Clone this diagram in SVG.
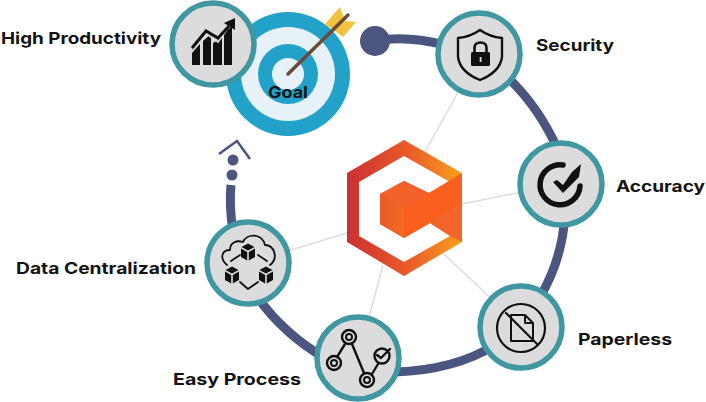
<svg xmlns="http://www.w3.org/2000/svg" width="706" height="402" viewBox="0 0 706 402">
<style>
.ring{fill:none;stroke:#4a5680;stroke-width:9}
.spoke{fill:none;stroke:#dcdcdc;stroke-width:1.5}
.disc{fill:#dcdcdc;stroke:#3f97a2;stroke-width:5.5}
.lbl{font-family:"Inter","Liberation Sans",sans-serif;font-weight:700;font-size:16px;fill:#141414}
.ln{fill:none;stroke:#111;stroke-width:2.4;stroke-linecap:round;stroke-linejoin:round}
.blk{fill:#111}
</style>
<defs>
<linearGradient id="hex" x1="0" y1="0" x2="1" y2="0"><stop offset="0" stop-color="#cc2f33"/><stop offset="0.55" stop-color="#ea5d28"/><stop offset="1" stop-color="#f9a01b"/></linearGradient>
<linearGradient id="face" x1="0" y1="0" x2="1" y2="0"><stop offset="0" stop-color="#e85a28"/><stop offset="1" stop-color="#f46a22"/></linearGradient>
<g id="cube">
<path class="blk" d="M0 -8.500L6.500 -5L0 -1.500L-6.500 -5Z"/>
<path class="blk" d="M-7 -3.500L-0.800 0V8.500L-7 5Z"/>
<path class="blk" d="M7 -3.500L0.800 0V8.500L7 5Z"/>
</g>
<g id="ringnode"><circle r="7" fill="none" stroke="#111" stroke-width="2.400"/><circle r="3" fill="none" stroke="#111" stroke-width="2"/></g>
</defs>
<rect width="706" height="402" fill="#fff"/>
<g id="connectors">
<path class="spoke" d="M479 54L425 152"/>
<path class="spoke" d="M561 184L462 204"/>
<path class="spoke" d="M521 327L443 253"/>
<path class="spoke" d="M358 358L383 265"/>
<path class="spoke" d="M248 263L347 233"/>
<path class="ring" d="M375 41Q405 35 445 45"/>
<path class="ring" d="M505 75Q538 105 558 150"/>
<path class="ring" d="M565 215Q562 260 540 297"/>
<path class="ring" d="M495 345Q455 370 395 372"/>
<path class="ring" d="M325 358Q285 335 258 298"/>
<path class="ring" d="M231 185Q229 205 233 232"/>
<circle cx="375" cy="41" r="15" fill="#4a5680"/>
<circle cx="232" cy="175" r="5.500" fill="#4a5680"/>
<circle cx="233" cy="160" r="5.500" fill="#4a5680"/>
<path d="M219 154L237 141L250 159" fill="none" stroke="#4a5680" stroke-width="2.500"/>
</g>
<g id="logo">
<path d="M404 140L462 173V242L404 276L347 242V173Z" fill="url(#hex)"/>
<path d="M404 156L450 182L429 193L404 181L380 194V224L404 238L430 223L450 236L404 262L359 236V182Z" fill="#fff"/>
<path d="M380 194L404 208V238L380 224Z" fill="url(#face)"/>
<path d="M404 181L429 193L404 208L380 194Z" fill="#f2622a"/>
<path d="M404 208L462 173V204L430 223L404 238Z" fill="#fa5f1e"/>
<path d="M430 223L462 204V242L450 236Z" fill="#f2642c"/>
</g>
<g id="goal">
<circle cx="288" cy="74" r="62" fill="#22a2c9"/>
<circle cx="288" cy="74" r="47" fill="#e6f2f7"/>
<circle cx="288" cy="74" r="30" fill="#22a2c9"/>
<circle cx="288" cy="74" r="16" fill="#e6f2f7"/>
<path d="M325 24L340 7L345 21L356 22L343 37Z" fill="#f2c23e"/>
<path d="M288 74L348 15" stroke="#6b4a3a" stroke-width="3.500" stroke-linecap="round"/>
<text class="lbl" x="268" y="98" textLength="40" lengthAdjust="spacingAndGlyphs" fill="#16303f">Goal</text>
</g>
<g id="high-productivity">
<circle class="disc" cx="213" cy="44" r="41"/>
<path class="blk" d="M192 65V50L200 44V65ZM203 65V41L211 34V65ZM213 65V43L222 38V65ZM224 65V33L232 26V65Z"/>
<path d="M191 53L207 34L218 42L232 22" fill="none" stroke="#dcdcdc" stroke-width="1.800"/>
<path d="M192 48L206 31L218 38L229 26" fill="none" stroke="#111" stroke-width="3"/>
<path class="blk" d="M224 23L235 18V30Z"/>
<text class="lbl" x="1" y="44" textLength="160" lengthAdjust="spacingAndGlyphs">High Productivity</text>
</g>
<g id="security">
<circle class="disc" cx="479" cy="54" r="41"/>
<path class="ln" d="M480 30Q470 37 458 38V57Q460 72 480 80Q500 72 502 57V38Q490 37 480 30Z"/>
<path d="M474.500 52V48Q474.500 42.500 480.500 42.500Q486.500 42.500 486.500 48V52" fill="none" stroke="#111" stroke-width="2.600"/>
<rect class="blk" x="471" y="52" width="19" height="14" rx="1.500"/>
<rect x="479.700" y="57" width="1.800" height="5" fill="#dcdcdc"/>
<text class="lbl" x="536" y="51" textLength="78" lengthAdjust="spacingAndGlyphs">Security</text>
</g>
<g id="accuracy">
<circle class="disc" cx="561" cy="184" r="41"/>
<path d="M563 165A20 20 0 1 0 580 186" fill="none" stroke="#111" stroke-width="5.500" stroke-linecap="round"/>
<path class="blk" d="M553 182L557 180L563 185L572 172L581 164L579 177L563 193Z"/>
<text class="lbl" x="616" y="192" textLength="89" lengthAdjust="spacingAndGlyphs">Accuracy</text>
</g>
<g id="paperless">
<circle class="disc" cx="521" cy="327" r="41"/>
<circle cx="521" cy="328" r="24" fill="none" stroke="#111" stroke-width="2.200"/>
<path class="ln" style="stroke-width:2" d="M511 315H525L533 323V341H511ZM525 315V323H533"/>
<path class="ln" style="stroke-width:2.200" d="M506 313L537 344"/>
<text class="lbl" x="578" y="345" textLength="94" lengthAdjust="spacingAndGlyphs">Paperless</text>
</g>
<g id="easy-process">
<circle class="disc" cx="358" cy="358" r="41"/>
<path class="ln" d="M337 357L345 344M352 344L364 373M372 374L378 364"/>
<use href="#ringnode" x="349" y="337"/>
<use href="#ringnode" x="334" y="363"/>
<use href="#ringnode" x="367" y="380"/>
<circle cx="382" cy="356" r="7.500" fill="none" stroke="#111" stroke-width="2.400"/>
<path class="ln" d="M377 355L381 358L390 349"/>
<text class="lbl" x="173" y="385" textLength="128" lengthAdjust="spacingAndGlyphs">Easy Process</text>
</g>
<g id="data-centralization">
<circle class="disc" cx="248" cy="263" r="41"/>
<path class="ln" style="stroke-width:1.800" d="M227 265C219 258 222 250 230 250C230 242 237 240 243 242C247 233 262 233 265 245C274 245 279 258 270 265"/>
<path class="ln" style="stroke-width:1.800" d="M231 261L240 255M258 255L267 261M240 282L248 289L258 282"/>
<use href="#cube" x="248" y="252"/>
<use href="#cube" x="232" y="275"/>
<use href="#cube" x="266" y="275"/>
<text class="lbl" x="16" y="274" textLength="180" lengthAdjust="spacingAndGlyphs">Data Centralization</text>
</g>
</svg>
